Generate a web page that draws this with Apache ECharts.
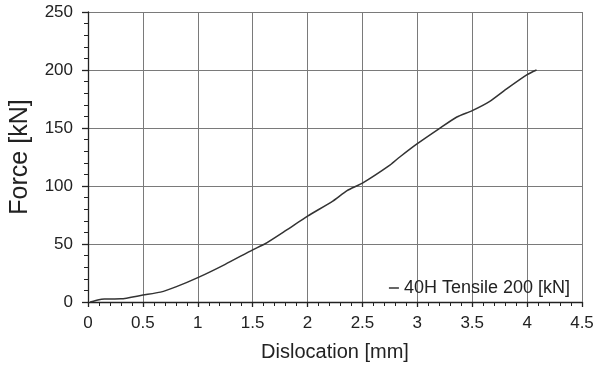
<!DOCTYPE html>
<html><head><meta charset="utf-8">
<script src="https://cdn.jsdelivr.net/npm/echarts@6/dist/echarts.min.js"></script>
<style>html,body{margin:0;padding:0;background:#fff}#c{width:597px;height:369px}</style>
</head><body><div id="c"></div>
<script>
var seriesName = '40H Tensile 200 [kN]';
var dislocation = [0.02,0.1,0.15,0.3,0.5,0.66,0.8,1.0,1.25,1.5,1.61,1.8,2.0,2.23,2.36,2.5,2.75,2.84,3.0,3.2,3.36,3.5,3.66,3.81,4.0,4.086];
var force =       [0,   2,  2.5, 2.7,6,  8.5, 13, 21, 32.5,45, 50,  61.5,74, 87,  96,  102.5,118,125,136.5,149.5,159.5,165,173,183.5,196,200];
var xTicks = {min:0, max:4.5, interval:0.5};
var yTicks = {min:0, max:250, interval:50};

var data = dislocation.map(function(d,i){return [d, force[i]];});
var font = 'Liberation Sans, Arial, sans-serif';
var chart = echarts.init(document.getElementById('c'));
chart.setOption({
  animation:false,
  grid:{left:88,right:15,top:12,bottom:67},
  legend:{
    data:[seriesName], right:27, top:279, icon:'rect', itemWidth:10, itemHeight:1.5, itemGap:5,
    textStyle:{fontFamily:font,fontSize:18,color:'#222'}, padding:0
  },
  xAxis:{
    type:'value', min:xTicks.min, max:xTicks.max, interval:xTicks.interval,
    name:'Dislocation [mm]', nameLocation:'middle', nameGap:40,
    nameTextStyle:{fontFamily:font,fontSize:20,color:'#222'},
    axisLine:{lineStyle:{color:'#222',width:1.3}},
    axisTick:{show:true,length:5,inside:false,lineStyle:{color:'#222',width:1.3}},
    minorTick:{show:true,splitNumber:5,length:4,lineStyle:{color:'#222',width:1}},
    splitLine:{show:true,lineStyle:{color:'#7a7a7a',width:1}},
    axisLabel:{fontFamily:font,fontSize:17,color:'#222',margin:13}
  },
  yAxis:{
    type:'value', min:yTicks.min, max:yTicks.max, interval:yTicks.interval,
    name:'Force [kN]', nameLocation:'middle', nameGap:55,
    nameTextStyle:{fontFamily:font,fontSize:25,color:'#222'},
    axisLine:{show:true,lineStyle:{color:'#222',width:1.3}},
    axisTick:{show:true,length:6,lineStyle:{color:'#222',width:1.3}},
    minorTick:{show:true,splitNumber:5,length:4,lineStyle:{color:'#222',width:1}},
    splitLine:{show:true,lineStyle:{color:'#7a7a7a',width:1}},
    axisLabel:{fontFamily:font,fontSize:17,color:'#222',margin:15}
  },
  series:[{
    name:seriesName, type:'line', data:data, smooth:0.2, showSymbol:false, symbol:'none',
    lineStyle:{color:'#333',width:1.5}, itemStyle:{color:'#333'}
  }]
});
</script></body></html>
